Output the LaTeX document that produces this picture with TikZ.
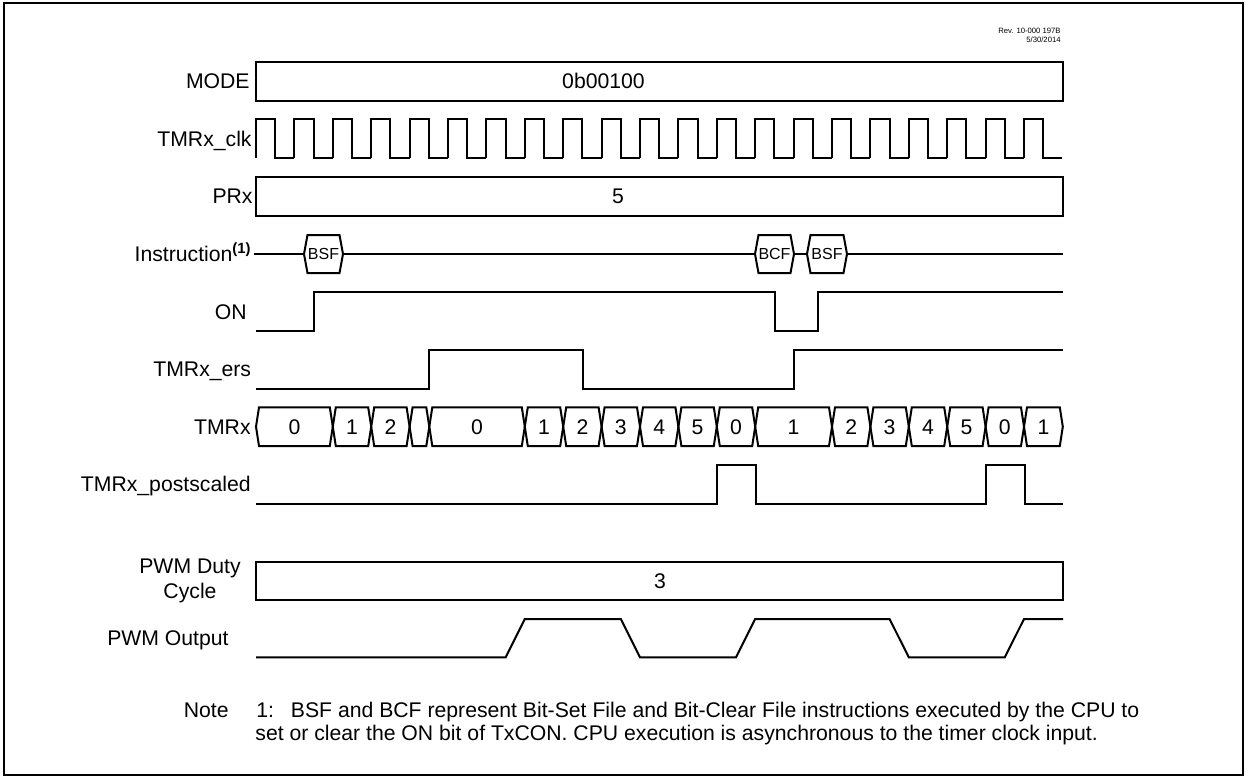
\documentclass[tikz,border=0pt]{standalone}
\usepackage{fontspec}
\setmainfont{Liberation Sans}
\usetikzlibrary{positioning}
\tikzset{sig/.style={draw,line width=1pt,line join=miter},
  lbl/.style={font=\fontsize{10.6}{12}\selectfont,inner sep=0},
  sigtext/.style={font=\fontsize{10.6}{12}\selectfont,inner sep=0},
  hexbox/.style={line width=1pt,fill=white}}
\begin{document}
\begin{tikzpicture}[x=0.5pt,y=-0.5pt]
\useasboundingbox (0,0) rectangle (1248,777);
\draw[line width=1.1pt] (4,3) rectangle (1243,775);
\node[anchor=east,font=\fontsize{3.85}{4}\selectfont,inner sep=0] (rev) at (1061,30.5) {Rev. 10-000 197B};
\node[anchor=east,font=\fontsize{3.85}{4}\selectfont,inner sep=0] (date) at (1061,40) {5/30/2014};
% bus rows
\draw[sig] (256,62) rectangle (1063,100.5);
\node[sigtext] (modeval) at (603.5,81) {0b00100};
\draw[sig] (256,177) rectangle (1063,215.5);
\node[sigtext] (prval) at (618,196.5) {5};
\draw[sig] (256,562) rectangle (1063,599.5);
\node[sigtext] (dutyval) at (660,581) {3};
% labels
\node[lbl,anchor=base east] (mode) at (250,88) {MODE};
\node[lbl,anchor=base east] (clk) at (252,146) {TMRx\_clk};
\node[lbl,anchor=base east] (prx) at (253,203) {PRx};
\node[lbl,anchor=base east] (instr) at (252,261) {Instruction\textsuperscript{\textbf{(1)}}};
\node[lbl,anchor=base east] (on) at (247,319) {ON};
\node[lbl,anchor=base east] (ers) at (251.5,376.7) {TMRx\_ers};
\node[lbl,anchor=base east] (tmr) at (251,434) {TMRx};
\node[lbl,anchor=base east] (post) at (251,491.7) {TMRx\_postscaled};
\node[lbl,anchor=base] (duty) at (190,573.5) {PWM Duty};
\node[lbl,anchor=base] (cycle) at (190,598.5) {Cycle};
\node[lbl,anchor=base east] (pwm) at (229,645.7) {PWM Output};
% clock
\foreach \k in {0,...,20}{
  \pgfmathsetmacro{\xa}{256+38.4*\k}
  \draw[sig] (\xa,158.3)--(\xa,119.3)--(\xa+19.2,119.3)--(\xa+19.2,158.3)--(\xa+38.4,158.3);
}
% instruction line
\draw[sig] (254,254)--(1063,254);
\foreach \a/\b/\t/\n in {304/343/BSF/bsfa,755/794/BCF/bcf,807/847/BSF/bsfb}{
  \filldraw[hexbox] (\a,254)--(\a+3.5,235)--(\b-3.5,235)--(\b,254)--(\b-3.5,273)--(\a+3.5,273)--cycle;
  \node[inner sep=0,font=\fontsize{8}{9}\selectfont] (\n) at ({(\a+\b)/2},254) {\t};
}
% single lines
\draw[sig] (256,331)--(314,331)--(314,292)--(775,292)--(775,331)--(818,331)--(818,292)--(1063,292);
\draw[sig] (256,388.5)--(429,388.5)--(429,350)--(582.7,350)--(582.7,388.5)--(794,388.5)--(794,350)--(1063,350);
\draw[sig] (256,504)--(717.3,504)--(717.3,465)--(756,465)--(756,504)--(986,504)--(986,465)--(1024.7,465)--(1024.7,504)--(1063,504);
\draw[sig] (256,657.3)--(505.6,657.3)--(524.8,619)--(620.8,619)--(640,657.3)--(736,657.3)--(755.2,619)--(889.6,619)--(908.8,657.3)--(1004.8,657.3)--(1024,619)--(1063,619);
% counter
\foreach \a/\b/\t/\n in {256/332.8/0/a,332.8/371.2/1/b,371.2/409.6/2/c,409.6/429.3//d,429.3/524.8/0/e,524.8/563.2/1/f,563.2/601.6/2/g,601.6/640/3/h,640/678.4/4/i,678.4/716.8/5/j,716.8/755.2/0/k,755.2/832/1/l,832/870.4/2/m,870.4/908.8/3/n,908.8/947.2/4/o,947.2/985.6/5/p,985.6/1024/0/q,1024/1062.8/1/r}{
  \draw[sig] (\a,426.7)--(\a+3,407.3)--(\b-3,407.3)--(\b,426.7)--(\b-3,446)--(\a+3,446)--cycle;
  \node[sigtext] (cnt\n) at ({(\a+\b)/2},427) {\t};
}
% note
\node[lbl,anchor=base west] (note) at (183.5,717) {Note};
\node[lbl,anchor=base west] (noten) at (256,717) {1:};
\node[lbl,anchor=base west] (notea) at (290.5,717) {BSF and BCF represent Bit-Set File and Bit-Clear File instructions executed by the CPU to};
\node[lbl,anchor=base west] (noteb) at (255,740) {set or clear the ON bit of TxCON. CPU execution is asynchronous to the timer clock input.};
\end{tikzpicture}
\end{document}
